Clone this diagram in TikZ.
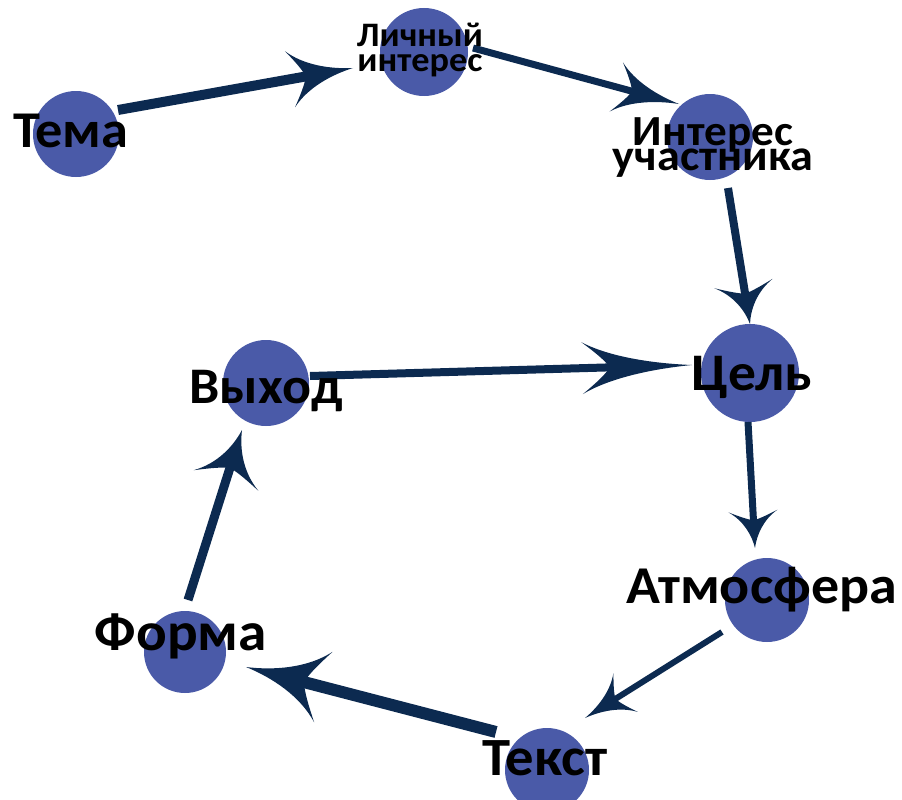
\documentclass[tikz,border=0pt]{standalone}
\usepackage{fontspec}
\setmainfont{Carlito}
\usetikzlibrary{arrows.meta,calc}
\definecolor{nodeblue}{HTML}{4A5AA8}
\definecolor{navy}{HTML}{0C2A50}
\pgfdeclarearrow{
  name = Barb,
  parameters = {\the\pgfarrowlength,\the\pgfarrowwidth},
  setup code = {
    \pgfarrowssettipend{0pt}
    \pgfarrowssetbackend{-\pgfarrowlength}
    \pgfarrowssetlineend{-.6\pgfarrowlength}
    \pgfarrowssetvisualbackend{-.75\pgfarrowlength}
    \pgfarrowssavethe\pgfarrowlength
    \pgfarrowssavethe\pgfarrowwidth
  },
  drawing code = {
    \pgfpathmoveto{\pgfpointorigin}
    \pgfpathcurveto{\pgfpoint{-.35\pgfarrowlength}{.05\pgfarrowwidth}}{\pgfpoint{-.75\pgfarrowlength}{.2\pgfarrowwidth}}{\pgfpoint{-\pgfarrowlength}{.5\pgfarrowwidth}}
    \pgfpathcurveto{\pgfpoint{-.88\pgfarrowlength}{.3\pgfarrowwidth}}{\pgfpoint{-.78\pgfarrowlength}{.12\pgfarrowwidth}}{\pgfpoint{-.75\pgfarrowlength}{0pt}}
    \pgfpathcurveto{\pgfpoint{-.78\pgfarrowlength}{-.12\pgfarrowwidth}}{\pgfpoint{-.88\pgfarrowlength}{-.3\pgfarrowwidth}}{\pgfpoint{-\pgfarrowlength}{-.5\pgfarrowwidth}}
    \pgfpathcurveto{\pgfpoint{-.75\pgfarrowlength}{-.2\pgfarrowwidth}}{\pgfpoint{-.35\pgfarrowlength}{-.05\pgfarrowwidth}}{\pgfpointorigin}
    \pgfpathclose
    \pgfusepathqfill
  },
  defaults = {length=40pt, width=40pt}
}
\newcommand{\fitw}[2]{\scalebox{1}[0.95]{\resizebox{#1}{!}{#2}}}
\newcommand{\twolines}[3]{\vbox{\baselineskip=25pt\lineskiplimit=-100pt\lineskip=0pt
  \hbox to #3{\hss#1\hss}\hbox to #3{\hss#2\hss}}}
\tikzset{
  circ/.style={circle, fill=nodeblue, draw=none, inner sep=0pt},
  lbl/.style={inner sep=0pt, anchor=base, font=\bfseries, text=black},
  conn/.style 2 args={draw=navy, -{Barb[length=#1pt, width=#2pt]}},
}
\begin{document}
\begin{tikzpicture}[x=1pt, y=-1pt]
\useasboundingbox (0,0) rectangle (902,800);
% circles
\node[circ, minimum size=86pt] (c1) at (76,134) {};
\node[circ, minimum size=88pt] (c2) at (424,52) {};
\node[circ, minimum size=86pt] (c3) at (710,137) {};
\node[circ, minimum size=98pt] (c4) at (750,373) {};
\node[circ, minimum size=86pt] (c5) at (266,383) {};
\node[circ, minimum size=84pt] (c6) at (767,600) {};
\node[circ, minimum size=84pt] (c7) at (547,770) {};
\node[circ, minimum size=82pt] (c8) at (185,652) {};
% connectors
\draw[conn={64}{57}, line width=10pt] ([shift={(42,-24)}]c1.center) -- ([shift={(-71,16)}]c2.center);
\draw[conn={65}{51}, line width=7pt] ([shift={(49,-4)}]c2.center) -- ([shift={(-31,-33)}]c3.center);
\draw[conn={41}{59}, line width=8pt] ([shift={(18,51)}]c3.center) -- ([shift={(0,-49)}]c4.center);
\draw[conn={110}{52}, line width=8pt] ([shift={(44,-7)}]c5.center) -- ([shift={(-58,-8)}]c4.center);
\draw[conn={37}{49}, line width=7pt] ([shift={(-2,49)}]c4.center) -- ([shift={(-12,-52)}]c6.center);
\draw[conn={48}{46}, line width=6pt] ([shift={(-45,32)}]c6.center) -- ([shift={(38,-52)}]c7.center);
\draw[conn={80}{73}, line width=12pt] ([shift={(-51,-38)}]c7.center) -- ([shift={(61,15)}]c8.center);
\draw[conn={53}{68}, line width=9pt] ([shift={(3,-52)}]c8.center) -- ([shift={(-24,47)}]c5.center);
% labels
\node[lbl] (t1) at (70.5,147) {\fitw{115pt}{Тема}};
\node[lbl] (t2) at (420,72) {\twolines{\fitw{126pt}{Личный}}{\fitw{125pt}{интерес}}{130pt}};
\node[lbl] (t3) at (713,170) {\twolines{\fitw{160pt}{Интерес}}{\fitw{200pt}{участника}}{204pt}};
\node[lbl] (t4) at (752,390) {\fitw{120pt}{Цель}};
\node[lbl] (t5) at (266,403) {\fitw{153pt}{Выход}};
\node[lbl] (t6) at (762,603) {\fitw{270pt}{Атмосфера}};
\node[lbl] (t7) at (181,650) {\fitw{172pt}{Форма}};
\node[lbl] (t8) at (545,775) {\fitw{125pt}{Текст}};
\end{tikzpicture}
\end{document}
